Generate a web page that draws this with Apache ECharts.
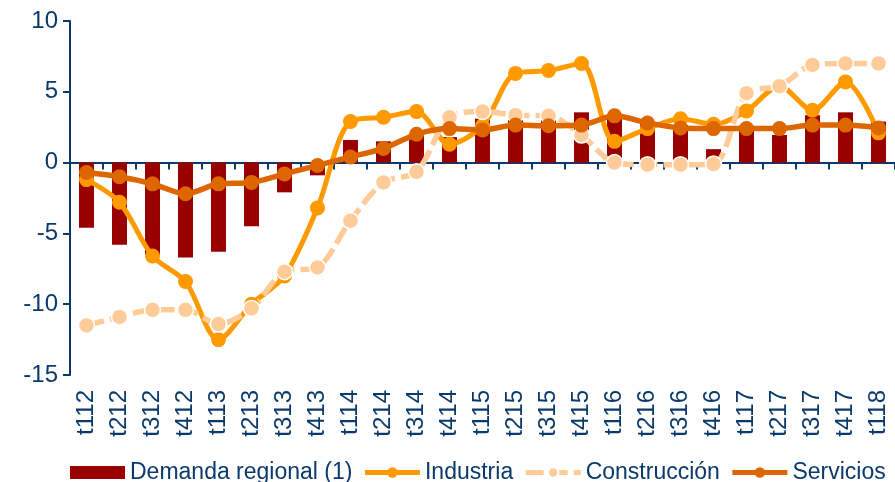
<!DOCTYPE html>
<html>
<head>
<meta charset="utf-8">
<script src="https://cdn.jsdelivr.net/npm/echarts@6/dist/echarts.min.js"></script>
<style>
    html, body { margin: 0; padding: 0; background: #fff; }
    #chart { width: 895px; height: 482px; }
</style>
</head>
<body>
<div id="chart"></div>
<script>
// trimestres
var categorias = ['t112','t212','t312','t412','t113','t213','t313','t413','t114','t214','t314','t414',
    't115','t215','t315','t415','t116','t216','t316','t416','t117','t217','t317','t417','t118'];
var demanda = [-4.6,-5.8,-6.5,-6.7,-6.3,-4.5,-2.1,-0.9,1.6,1.5,2.0,1.8,3.1,3.0,3.6,3.55,3.3,2.8,2.65,0.95,2.6,1.95,3.35,3.55,2.9];
var industria = [-1.2,-2.8,-6.6,-8.4,-12.5,-10.0,-8.0,-3.2,2.9,3.2,3.6,1.3,2.6,6.3,6.5,7.0,1.5,2.4,3.1,2.7,3.65,5.4,3.7,5.7,2.1];
var construccion = [-11.5,-10.9,-10.4,-10.4,-11.4,-10.3,-7.7,-7.4,-4.1,-1.4,-0.65,3.2,3.6,3.35,3.3,1.95,0.0,-0.15,-0.15,-0.1,4.9,5.4,6.9,7.0,7.0];
var servicios = [-0.7,-1.0,-1.5,-2.2,-1.5,-1.4,-0.8,-0.2,0.4,1.0,2.0,2.4,2.3,2.65,2.6,2.65,3.3,2.8,2.45,2.4,2.4,2.4,2.65,2.65,2.45];

var azul = '#0a3a6b';
var fuente = '"Liberation Sans", Arial, sans-serif';

var myChart = echarts.init(document.getElementById('chart'));
myChart.setOption({
    animation: false,
    textStyle: { fontFamily: fuente },
    grid: { left: 70, top: 21, bottom: 107, right: -15 },
    legend: {
        left: 70, top: 461, width: 900, padding: 0,
        itemWidth: 55, itemHeight: 13, itemGap: 10,
        lineStyle: { width: 5 },
        textStyle: { color: azul, fontSize: 23, fontFamily: fuente },
        data: [
            { name: 'Demanda regional (1)', icon: 'rect' },
            'Industria', 'Construcción', 'Servicios'
        ]
    },
    xAxis: [
        {
            type: 'category', data: categorias, position: 'bottom',
            axisLine: { show: false, onZero: false },
            axisTick: { show: false },
            axisLabel: { rotate: 90, interval: 0, margin: 15, color: azul, fontSize: 24, fontFamily: fuente }
        },
        {
            type: 'category', data: categorias, position: 'bottom',
            axisLine: { show: true, onZero: true, lineStyle: { color: azul, width: 2 } },
            axisTick: { show: true, length: 7, lineStyle: { color: azul, width: 2 } },
            axisLabel: { show: false }
        }
    ],
    yAxis: {
        type: 'value', min: -15, max: 10, interval: 5,
        axisLine: { show: true, lineStyle: { color: azul, width: 2 } },
        axisTick: { show: true, length: 7, lineStyle: { color: azul, width: 2 } },
        axisLabel: { color: azul, fontSize: 24, margin: 12, fontFamily: fuente },
        splitLine: { show: false }
    },
    series: [
        {
            name: 'Demanda regional (1)', type: 'bar', data: demanda, barWidth: 15,
            itemStyle: { color: '#990000' }
        },
        {
            name: 'Industria', type: 'line', data: industria, smooth: 0.3,
            symbol: 'circle', symbolSize: 15,
            lineStyle: { color: '#ff9900', width: 5 },
            itemStyle: { color: '#ff9900' }
        },
        {
            name: 'Construcción', type: 'line', data: construccion, smooth: 0.3,
            symbol: 'circle', symbolSize: 16,
            lineStyle: { color: '#ffcc99', width: 5.5, type: [18, 6] },
            itemStyle: { color: '#ffcc99', borderColor: '#fff', borderWidth: 1.5 }
        },
        {
            name: 'Servicios', type: 'line', data: servicios, smooth: 0.3,
            symbol: 'circle', symbolSize: 15,
            lineStyle: { color: '#dd6600', width: 5.5 },
            itemStyle: { color: '#dd6600' }
        }
    ]
});
</script>
</body>
</html>
